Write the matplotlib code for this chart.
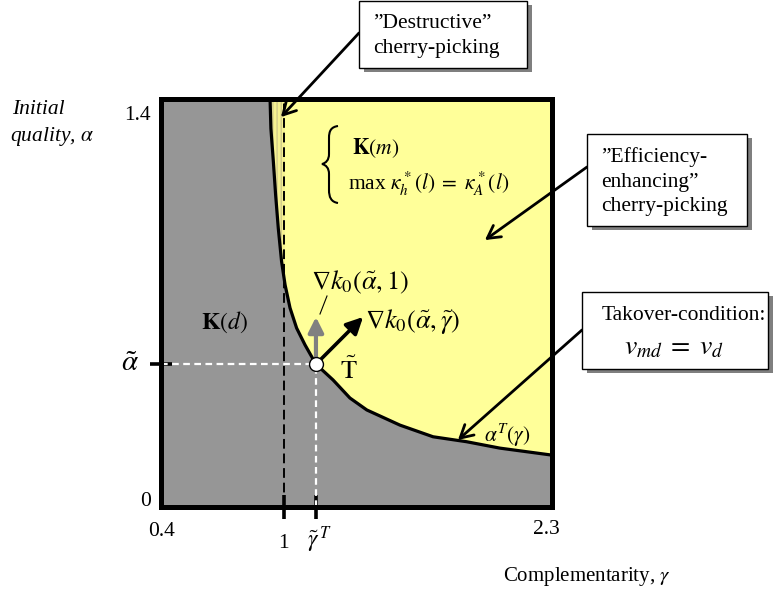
"""Takeover regions in the (gamma, alpha) plane"""
import numpy as np
import matplotlib.pyplot as plt
from matplotlib.patches import Rectangle, PathPatch
from matplotlib.path import Path

plt.rcParams['font.family'] = ['Liberation Serif', 'DejaVu Serif']
plt.rcParams['mathtext.fontset'] = 'stix'

W, H = 776, 598

# boundary alpha^T(gamma)
gamma_curve = [0.930, 0.934, 0.946, 0.957, 0.970, 0.986, 1.003, 1.027, 1.059,
               1.100, 1.153, 1.236, 1.318, 1.400, 1.561, 1.722, 1.885, 2.047,
               2.300]
alpha_curve = [1.400, 1.299, 1.185, 1.071, 0.956, 0.842, 0.762, 0.683, 0.614,
               0.556, 0.490, 0.436, 0.374, 0.333, 0.281, 0.241, 0.224, 0.202,
               0.178]

gamma_lim = [0.4, 2.3]
alpha_lim = [0.0, 1.4]
gamma_one = 1.0
gamma_t = 1.153          # tilde gamma^T
alpha_t = 0.490          # tilde alpha
grad_alpha_tip = 0.652   # tip height of both gradient arrows
grad_gamma_tip = 1.382   # tip of grad k0(alpha, gamma)

# arrow targets of the callouts (gamma, alpha)
destructive_target = (0.983, 1.338)
efficiency_target = (1.974, 0.916)
takeover_target = (1.843, 0.230)

GRAY = '#969696'
YELLOW = '#ffff99'


def fp(x, y):
    """pixel (from top left) -> figure fraction"""
    return (x / W, 1 - y / H)


fig = plt.figure(figsize=(W / 100, H / 100), dpi=100)
ax = fig.add_axes([161 / W, 1 - 507 / H, 391 / W, 408 / H])


def ap(x, y):
    """pixel -> axes fraction"""
    return ((x - 161) / 391, (507 - y) / 408)


ax.set_xlim(gamma_lim)
ax.set_ylim(alpha_lim)
ax.set_facecolor(GRAY)

g = np.array(gamma_curve)
a = np.array(alpha_curve)
ax.fill_between(g, a, alpha_lim[1], color=YELLOW, lw=0, zorder=1)

# "destructive" strip between the curve and gamma = 1
a_cross = np.interp(gamma_one, g, a)
mask = g <= gamma_one
ax.fill_betweenx(np.r_[a[mask], a_cross], np.r_[g[mask], gamma_one], gamma_one,
                 facecolor='#f6f290', edgecolor='#d2cb8a', hatch='||||',
                 lw=0, zorder=1.5)

ax.plot(g, a, color='black', lw=2.3, zorder=4, solid_joinstyle='round')
ax.plot([gamma_one, gamma_one], alpha_lim, color='black', lw=1.4,
        dashes=(5, 2.5), zorder=3)
ax.plot([gamma_lim[0], gamma_t], [alpha_t, alpha_t], color='white', lw=1.6,
        dashes=(3, 2), zorder=3)
ax.plot([gamma_t, gamma_t], [alpha_lim[0], alpha_t], color='white', lw=1.6,
        dashes=(3, 2), zorder=3)

# gradient arrows
ax.annotate('', xy=(gamma_t, grad_alpha_tip), xytext=(gamma_t, alpha_t),
            arrowprops=dict(arrowstyle='-|>,head_length=0.5,head_width=0.25',
                            color='#808080', lw=3, mutation_scale=18,
                            shrinkA=0, shrinkB=0), zorder=5)
ax.annotate('', xy=(grad_gamma_tip, grad_alpha_tip), xytext=(gamma_t, alpha_t),
            arrowprops=dict(arrowstyle='-|>,head_length=0.5,head_width=0.25',
                            color='black', lw=2.6, mutation_scale=20,
                            shrinkA=0, shrinkB=0), zorder=5)
ax.plot([gamma_t], [alpha_t], 'o', ms=10, mfc='white', mec='black', mew=1,
        zorder=6)

for s in ax.spines.values():
    s.set_linewidth(3.6)
    s.set_zorder(10)

ax.set_xticks([gamma_one, gamma_t])
ax.set_yticks([alpha_t])
ax.tick_params(direction='inout', length=17, width=2.6, labelbottom=False,
               labelleft=False)
ax.tick_params(axis='y', length=16)

# axis numbers and labels
txt = dict(transform=fig.transFigure, ha='center', va='center')
fig.text(*fp(137, 115), '1.4', fontsize=15.5, **txt)
fig.text(*fp(146, 502), '0', fontsize=15.5, **txt)
fig.text(*fp(162, 531), '0.4', fontsize=15.5, **txt)
fig.text(*fp(546, 529), '2.3', fontsize=15.5, **txt)
fig.text(*fp(283, 543), '1', fontsize=15.5, **txt)
fig.text(*fp(319, 540), r'$\tilde{\gamma}^{\,T}$', fontsize=17, **txt)
fig.text(*fp(130, 364), r'$\tilde{\alpha}$', fontsize=21, **txt)
fig.text(*fp(12, 109), 'Initial', fontsize=15.5, style='italic', ha='left',
         va='center')
fig.text(*fp(10, 136), r'quality, $\alpha$', fontsize=15.5, style='italic',
         ha='left', va='center')
fig.text(*fp(503, 577), r'Complementarity, $\gamma$', fontsize=15, ha='left',
         va='center')

# labels inside the plot
fig.text(*fp(224, 322), r'$\mathbf{K}(d)$', fontsize=17, **txt)
fig.text(*fp(352, 148), r'$\mathbf{K}(m)$', fontsize=15.5, ha='left',
         va='center')
fig.text(*fp(348, 184), r'max $\kappa^*_h(l)\;=\;\kappa^*_A(l)$',
         fontsize=15.5, ha='left', va='center')
fig.text(*fp(311, 282), r'$\nabla k_0(\tilde{\alpha},1)$', fontsize=19,
         ha='left', va='center')
fig.text(*fp(365, 322), r'$\nabla k_0(\tilde{\alpha},\tilde{\gamma})$',
         fontsize=19, ha='left', va='center')
fig.text(*fp(340, 370), r'$\tilde{\mathrm{T}}$', fontsize=19, ha='left',
         va='center')
fig.text(*fp(484, 435), r'$\alpha^T(\gamma)$', fontsize=15.5, ha='left',
         va='center')
ax.plot(*zip(ap(327, 296), ap(320, 314)), color='black', lw=0.8,
        transform=ax.transAxes, zorder=5)

# brace
bp = [(338, 126), (331, 127), (329, 131), (329, 138), (329, 154),
      (329, 160), (326, 163), (322, 164), (326, 165), (329, 168), (329, 174),
      (329, 190), (329, 197), (331, 202), (338, 203)]
codes = [Path.MOVETO] + [Path.CURVE4] * 3 + [Path.LINETO] + [Path.CURVE4] * 6 \
    + [Path.LINETO] + [Path.CURVE4] * 3
brace = Path([fp(x, y) for x, y in bp], codes)
fig.add_artist(PathPatch(brace, transform=fig.transFigure, fill=False,
                         lw=1.5, color='black'))


def callout(x0, y0, x1, y1, lines, target, y_arrow):
    """white box with shadow and an arrow to target"""
    bx, by = fp(x0, y1)
    w, h = (x1 - x0) / W, (y1 - y0) / H
    fig.add_artist(Rectangle((bx + 5 / W, by - 4 / H), w, h,
                             transform=fig.transFigure, fc='#7f7f7f', lw=0))
    fig.add_artist(Rectangle((bx, by), w, h, transform=fig.transFigure,
                             fc='white', ec='black', lw=1))
    for x, y, s, size in lines:
        fig.text(*fp(x, y), s, fontsize=size, ha='left', va='center')
    ax.annotate('', xy=target, xytext=fp(x0, y_arrow),
                textcoords='figure fraction', annotation_clip=False,
                arrowprops=dict(arrowstyle='->,head_length=0.45,head_width=0.25',
                                lw=2, color='black', mutation_scale=20,
                                shrinkA=0, shrinkB=0), zorder=8)


callout(359, 1, 527, 68,
        [(373, 24, '\u201dDestructive\u201d', 15.5),
         (373, 49, 'cherry-picking', 15.5)], destructive_target, 33)
callout(587, 134, 747, 226,
        [(601, 157, '\u201dEfficiency-', 15.5),
         (601, 182, 'enhancing\u201d', 15.5),
         (601, 207, 'cherry-picking', 15.5)], efficiency_target, 167)
callout(582, 292, 768, 369,
        [(602, 315, 'Takover-condition:', 15.5),
         (624, 348, r'$v_{md}\;=\;v_d$', 20)], takeover_target, 330)

fig.savefig('out.png', dpi=100)
